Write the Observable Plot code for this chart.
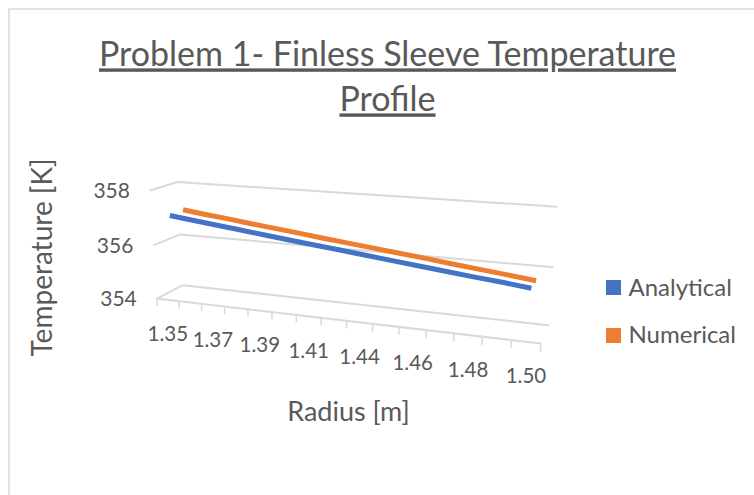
<!DOCTYPE html>
<html>
<head>
<meta charset="utf-8">
<script src="https://cdn.jsdelivr.net/npm/d3@7"></script>
<script src="https://cdn.jsdelivr.net/npm/@observablehq/plot@0.6"></script>
<style>
  html, body { margin: 0; padding: 0; background: #ffffff; }
  #chart svg { display: block; }
</style>
</head>
<body>
<div id="chart"></div>
<script>
// ---------------- DATA ----------------
const seriesNames = ["Analytical", "Numerical"];
const radius = [1.3500, 1.3607, 1.3714, 1.3821, 1.3929, 1.4036, 1.4143, 1.4250,
                1.4357, 1.4464, 1.4571, 1.4679, 1.4786, 1.4893, 1.5000];
const analytical = [357.04, 356.93, 356.83, 356.73, 356.62, 356.52, 356.42, 356.32,
                    356.22, 356.12, 356.02, 355.92, 355.82, 355.73, 355.63];
const numerical  = [357.07, 356.96, 356.86, 356.75, 356.65, 356.55, 356.44, 356.34,
                    356.24, 356.14, 356.04, 355.93, 355.83, 355.73, 355.62];
const yTicks = [354, 356, 358];
const xTickLabels = ["1.35", "1.37", "1.39", "1.41", "1.44", "1.46", "1.48", "1.50"];
const xTickIndex = [0, 2, 4, 6, 8, 10, 12, 14];
const titleLines = ["Problem 1- Finless Sleeve Temperature", "Profile"];
const xTitle = "Radius [m]";
const yTitle = "Temperature [K]";
const colors = ["#4472c4", "#ed7d31"];

// ---------------- 3D SCALES ----------------
// category axis (X), value axis (Y), series depth axis (Z)
const xCat = d3.scaleBand().domain(d3.range(radius.length)).range([0, radius.length]);
const yVal = d3.scaleLinear().domain([354, 358]).range([0, 4]);
const zSer = d3.scaleBand().domain(seriesNames).range([0, 2]);

// perspective camera calibrated on the chart box (box coordinates -> pixels)
const calib = [
  [0, 0, 0, 156, 298], [15, 0, 0, 541, 343], [0, 0, 2, 182, 285], [15, 0, 2, 549, 325],
  [0, 4, 2, 177, 182], [15, 4, 2, 557, 206], [0, 4, 0, 149, 190], [0, 2, 0, 153, 245],
  [0, 2, 2, 180, 233], [15, 2, 2, 553, 267], [7.5, 0, 0, 333.5, 318.7],
  [1, 0, 0, 179, 300.7], [14, 0, 0, 510, 339.4]
];
function solveLinear(A, b) {
  const n = b.length, M = A.map((r, i) => [...r, b[i]]);
  for (let c = 0; c < n; c++) {
    let piv = c;
    for (let r = c + 1; r < n; r++) if (Math.abs(M[r][c]) > Math.abs(M[piv][c])) piv = r;
    [M[c], M[piv]] = [M[piv], M[c]];
    for (let r = c + 1; r < n; r++) {
      const f = M[r][c] / M[c][c];
      for (let k = c; k <= n; k++) M[r][k] -= f * M[c][k];
    }
  }
  const x = new Array(n).fill(0);
  for (let r = n - 1; r >= 0; r--) {
    let s = M[r][n];
    for (let k = r + 1; k < n; k++) s -= M[r][k] * x[k];
    x[r] = s / M[r][r];
  }
  return x;
}
const rows = [], rhs = [];
for (const [X, Y, Z, u, v] of calib) {
  rows.push([X, Y, Z, 1, 0, 0, 0, 0, -u * X, -u * Y, -u * Z]); rhs.push(u);
  rows.push([0, 0, 0, 0, X, Y, Z, 1, -v * X, -v * Y, -v * Z]); rhs.push(v);
}
const AtA = d3.range(11).map(i => d3.range(11).map(j => d3.sum(rows, r => r[i] * r[j])));
const Atb = d3.range(11).map(i => d3.sum(rows, (r, k) => r[i] * rhs[k]));
const P = solveLinear(AtA, Atb);
function project(X, Y, Z) {
  const w = P[8] * X + P[9] * Y + P[10] * Z + 1;
  return [(P[0] * X + P[1] * Y + P[2] * Z + P[3]) / w,
          (P[4] * X + P[5] * Y + P[6] * Z + P[7]) / w];
}
const nX = radius.length;

// ---------------- DERIVED TABLES ----------------
const seriesValues = [analytical, numerical];
const lineData = [];
seriesNames.forEach((name, s) => {
  radius.forEach((r, k) => {
    const [px, py] = project(xCat(k) + xCat.bandwidth() / 2, yVal(seriesValues[s][k]), zSer(name) + zSer.bandwidth() / 2);
    lineData.push({series: name, px, py});
  });
});
const grid = [];
for (const t of yTicks) {
  const a = project(0, yVal(t), 0), b = project(0, yVal(t), 2), c = project(nX, yVal(t), 2);
  grid.push({x1: a[0], y1: a[1], x2: b[0], y2: b[1]});
  grid.push({x1: b[0], y1: b[1], x2: c[0], y2: c[1]});
}
const axisLine = (() => { const a = project(0, 0, 0), b = project(nX, 0, 0); return [{x1: a[0], y1: a[1], x2: b[0], y2: b[1]}]; })();
const ticks = d3.range(nX + 1).map(k => {
  const a = project(k, 0, 0), b = project(k, -0.28, 0);
  return {x1: a[0], y1: a[1], x2: b[0], y2: b[1]};
});
const xLabelData = xTickLabels.map((lab, i) => {
  const k = xTickIndex[i];
  const [px, py] = project(xCat(k) + xCat.bandwidth() / 2, 0, 0);
  return {text: lab, px, py: py + 35};
});
const yLabelData = yTicks.map(t => {
  const [px, py] = project(0, yVal(t), 0);
  return {text: String(t), px: px - 20, py: py + 1};
});
const legendData = seriesNames.map((name, i) => ({name, x1: 606, x2: 621, y1: 280 + 48 * i, y2: 295 + 48 * i, tx: 628, ty: 288 + 47 * i}));
const titleData = [{text: titleLines[0], px: 387, py: 55}, {text: titleLines[1], px: 387, py: 100}];

const textColor = "#595959";
const gridColor = "#d9d9d9";

const chart = Plot.plot({
  width: 754,
  height: 495,
  margin: 0,
  x: {type: "identity", axis: null},
  y: {type: "identity", axis: null},
  color: {domain: seriesNames, range: colors},
  style: {fontFamily: "Lato, 'Open Sans', sans-serif", background: "#ffffff"},
  marks: [
    Plot.rect([{x1: 9, x2: 770, y1: 9, y2: 510}], {x1: "x1", x2: "x2", y1: "y1", y2: "y2", fill: "none", stroke: gridColor, strokeWidth: 1.5}),
    Plot.link(grid, {x1: "x1", y1: "y1", x2: "x2", y2: "y2", stroke: gridColor, strokeWidth: 2}),
    Plot.link(axisLine, {x1: "x1", y1: "y1", x2: "x2", y2: "y2", stroke: gridColor, strokeWidth: 2}),
    Plot.link(ticks, {x1: "x1", y1: "y1", x2: "x2", y2: "y2", stroke: gridColor, strokeWidth: 1.5}),
    Plot.line(lineData.filter(d => d.series === "Numerical"), {x: "px", y: "py", stroke: "series", strokeWidth: 5, strokeLinecap: "butt"}),
    Plot.line(lineData.filter(d => d.series === "Analytical"), {x: "px", y: "py", stroke: "series", strokeWidth: 5, strokeLinecap: "butt"}),
    Plot.text(xLabelData, {x: "px", y: "py", text: "text", fontSize: 20.5, fill: textColor, textAnchor: "middle"}),
    Plot.text(yLabelData, {x: "px", y: "py", text: "text", fontSize: 21, fill: textColor, textAnchor: "end"}),
    Plot.text([{text: yTitle, px: 43, py: 257}], {x: "px", y: "py", text: "text", rotate: -90, fontSize: 28, fill: textColor}),
    Plot.text([{text: xTitle, px: 348, py: 412}], {x: "px", y: "py", text: "text", fontSize: 27, fill: textColor}),
    Plot.rect(legendData, {x1: "x1", x2: "x2", y1: "y1", y2: "y2", fill: "name"}),
    Plot.text(legendData, {x: "tx", y: "ty", text: "name", fontSize: 24, fill: textColor, textAnchor: "start"}),
    Plot.text(titleData, {x: "px", y: "py", text: "text", fontSize: 34, fill: textColor, textAnchor: "middle"})
  ]
});
chart.querySelectorAll("text").forEach(t => {
  if (titleLines.includes(t.textContent)) t.setAttribute("text-decoration", "underline");
});
document.getElementById("chart").appendChild(chart);
</script>
</body>
</html>
